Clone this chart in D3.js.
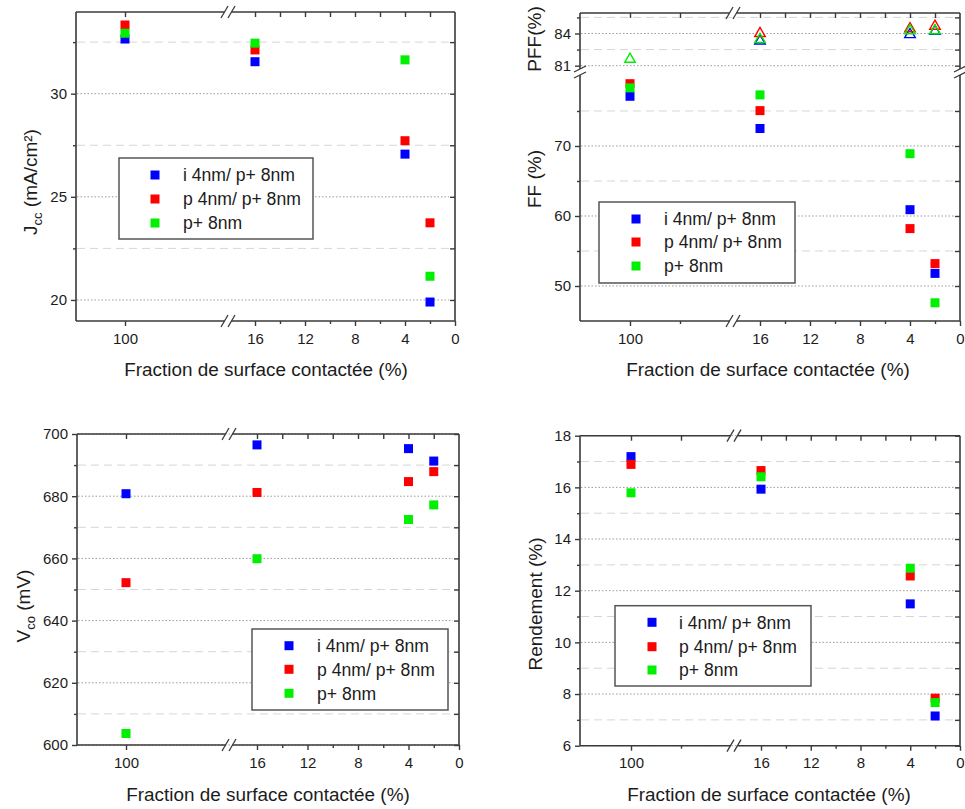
<!DOCTYPE html>
<html><head><meta charset="utf-8">
<script src="https://cdn.jsdelivr.net/npm/d3@7"></script>
<style>
body{margin:0;background:#fff}
svg{display:block}
text{font-family:"Liberation Sans",Arial,Helvetica,sans-serif;fill:#1c1c1c}
</style>
</head><body><svg id="c" width="965" height="809"></svg>
<script>
// ---------- DATA ----------
const categories = [100, 16, 4, 2];
const seriesNames = ["i 4nm/ p+ 8nm", "p 4nm/ p+ 8nm", "p+ 8nm"];
const seriesColors = ["#0000ff", "#ff0000", "#00f000"];
const xTickLabels = [100, 16, 12, 8, 4, 0];
const xMinorRight = [14, 10, 6, 2];

const jccI  = [32.65, 31.55, 27.07, 19.90];
const jccP  = [33.33, 32.12, 27.72, 23.74];
const jccPP = [32.93, 32.45, 31.64, 21.15];

const ffI  = [77.1, 72.5, 60.9, 51.8];
const ffP  = [78.9, 75.05, 58.2, 53.2];
const ffPP = [78.3, 77.3, 68.9, 47.6];

const pffI  = [null, 83.3, 83.9, 84.2];
const pffP  = [null, 84.0, 84.45, 84.68];
const pffPP = [81.6, 83.45, 84.26, 84.26];

const vcoI  = [680.8, 696.5, 695.3, 691.3];
const vcoP  = [652.2, 681.2, 684.7, 687.9];
const vcoPP = [603.7, 659.9, 672.5, 677.2];

const rendI  = [17.19, 15.93, 11.49, 7.15];
const rendP  = [16.89, 16.65, 12.57, 7.84];
const rendPP = [15.79, 16.41, 12.87, 7.67];

const jccTicks = [20, 25, 30],  jccMinor = [22.5, 27.5, 32.5];
const ffTicks  = [50, 60, 70],  ffMinor  = [55, 65, 75];
const pffTicks = [81, 84],      pffMinor = [82.5, 85.5];
const vcoTicks = [600, 620, 640, 660, 680, 700], vcoMinor = [610, 630, 650, 670, 690];
const rendTicks = [6, 8, 10, 12, 14, 16, 18], rendMinor = [7, 9, 11, 13, 15, 17];

const xTitle = "Fraction de surface contactée (%)";

// ---------- DRAWING ----------
const svg = d3.select('#c');
const AX = "#3a3a3a";

function drawPanel(cfg) {
  const g = svg.append('g');
  const f = cfg.frame;
  const xL = d3.scaleLinear().domain([100, 90]).range([cfg.x100, cfg.x100 + 50]);
  const xR = d3.scaleLinear().domain([16, 0]).range([cfg.x16, f.r]);
  const xPos = v => v > 50 ? xL(v) : xR(v);

  const segs = cfg.segs.map(s => Object.assign({}, s, {
    y: d3.scaleLinear().domain(s.domain).range(s.range)
  }));

  // gridlines
  segs.forEach(s => {
    g.selectAll(null).data(s.minor).enter().append('line')
      .attr('x1', f.l + 1).attr('x2', f.r - 1)
      .attr('y1', d => s.y(d)).attr('y2', d => s.y(d))
      .attr('stroke', '#d6d6d6').attr('stroke-width', 1).attr('stroke-dasharray', '8,5');
    g.selectAll(null).data(s.major).enter().append('line')
      .attr('x1', f.l + 1).attr('x2', f.r - 6)
      .attr('y1', d => s.y(d)).attr('y2', d => s.y(d))
      .attr('stroke', '#9a9a9a').attr('stroke-width', 1).attr('stroke-dasharray', '1.5,2');
  });

  // frame lines with breaks
  const gap = 3.5;
  const fr = g.append('g').attr('stroke', AX).attr('stroke-width', 1.6).attr('fill', 'none');
  [f.t, f.b].forEach(yy => {
    fr.append('line').attr('x1', f.l).attr('x2', cfg.xBreak - gap).attr('y1', yy).attr('y2', yy);
    fr.append('line').attr('x1', cfg.xBreak + gap).attr('x2', f.r).attr('y1', yy).attr('y2', yy);
  });
  [f.l, f.r].forEach(xx => {
    segs.forEach(s => {
      fr.append('line').attr('x1', xx).attr('x2', xx).attr('y1', s.range[0]).attr('y2', s.range[1]);
    });
  });
  // x break marks
  [f.t, f.b].forEach(yy => {
    [-3.5, 3.5].forEach(o => {
      fr.append('line').attr('x1', cfg.xBreak + o - 3.5).attr('y1', yy + 6)
        .attr('x2', cfg.xBreak + o + 3.5).attr('y2', yy - 6).attr('stroke-width', 1.3);
    });
  });
  // y break marks
  if (segs.length > 1) {
    const yb = (segs[0].range[1] + segs[1].range[0]) / 2;
    [f.l, f.r].forEach(xx => {
      [-3, 3].forEach(o => {
        fr.append('line').attr('x1', xx - 6).attr('y1', yb + o + 3)
          .attr('x2', xx + 6).attr('y2', yb + o - 3).attr('stroke-width', 1.3);
      });
    });
  }

  function styleAxis(sel, labels) {
    sel.select('.domain').remove();
    sel.selectAll('.tick line').attr('stroke', AX).attr('stroke-width', 1.4);
    if (labels) sel.selectAll('.tick text').attr('font-size', 15).attr('fill', '#1c1c1c')
      .style('font-family', '"Liberation Sans",Arial,sans-serif');
    else sel.selectAll('.tick text').remove();
  }

  // bottom axis
  const leftMinor = cfg.leftMinor ? [90] : [];
  styleAxis(g.append('g').attr('transform', `translate(0,${f.b})`)
    .call(d3.axisBottom(xL).tickValues([100]).tickSize(5).tickPadding(7).tickFormat(d3.format('d'))), true);
  styleAxis(g.append('g').attr('transform', `translate(0,${f.b})`)
    .call(d3.axisBottom(xR).tickValues(xTickLabels.filter(v => v <= 16)).tickSize(5).tickPadding(7).tickFormat(d3.format('d'))), true);
  styleAxis(g.append('g').attr('transform', `translate(0,${f.b})`)
    .call(d3.axisBottom(xR).tickValues(xMinorRight).tickSize(3)), false);
  if (leftMinor.length) styleAxis(g.append('g').attr('transform', `translate(0,${f.b})`)
    .call(d3.axisBottom(xL).tickValues(leftMinor).tickSize(3)), false);
  // top axis (inward)
  styleAxis(g.append('g').attr('transform', `translate(0,${f.t})`)
    .call(d3.axisTop(xL).tickValues([100].concat(leftMinor)).tickSize(-5)), false);
  styleAxis(g.append('g').attr('transform', `translate(0,${f.t})`)
    .call(d3.axisTop(xR).tickValues(xTickLabels.filter(v => v <= 16 && v > 0).concat(xMinorRight)).tickSize(-5)), false);

  // left / right axes
  segs.forEach(s => {
    styleAxis(g.append('g').attr('transform', `translate(${f.l},0)`)
      .call(d3.axisLeft(s.y).tickValues(s.major).tickSize(5).tickPadding(4).tickFormat(d3.format('d'))), true);
    styleAxis(g.append('g').attr('transform', `translate(${f.l},0)`)
      .call(d3.axisLeft(s.y).tickValues(s.minor).tickSize(3)), false);
    styleAxis(g.append('g').attr('transform', `translate(${f.r},0)`)
      .call(d3.axisRight(s.y).tickValues(s.major.concat(s.minor)).tickSize(-5)), false);
  });

  // markers
  cfg.series.forEach(ser => {
    const s = segs[ser.seg];
    const pts = categories.map((c, i) => ({c, v: ser.values[i]})).filter(d => d.v != null);
    if (ser.shape === 'tri') {
      g.selectAll(null).data(pts).enter().append('path')
        .attr('d', d3.symbol().type(d3.symbolTriangle).size(48))
        .attr('transform', d => `translate(${xPos(d.c)},${s.y(d.v)})`)
        .attr('fill', 'none').attr('stroke', ser.color).attr('stroke-width', 1.4);
    } else {
      g.selectAll(null).data(pts).enter().append('rect')
        .attr('x', d => xPos(d.c) - 4.5).attr('y', d => s.y(d.v) - 4.5)
        .attr('width', 9).attr('height', 9).attr('fill', ser.color);
    }
  });

  // legend
  const L = cfg.legend;
  const lg = g.append('g');
  lg.append('rect').attr('x', L.x).attr('y', L.y).attr('width', L.w).attr('height', L.h)
    .attr('fill', '#fff').attr('stroke', '#555').attr('stroke-width', 1.5);
  seriesNames.forEach((n, i) => {
    lg.append('rect').attr('x', L.mx - 4.5).attr('y', L.rows[i] - 4.5).attr('width', 9).attr('height', 9)
      .attr('fill', seriesColors[i]);
    lg.append('text').attr('x', L.tx).attr('y', L.rows[i]).attr('dy', '0.36em')
      .attr('font-size', 17.6).text(n);
  });

  // x title
  g.append('text').attr('x', cfg.xt[0]).attr('y', cfg.xt[1]).attr('text-anchor', 'middle')
    .attr('font-size', 18.9).text(xTitle);
  // y titles
  cfg.yTitles.forEach(t => {
    const tx = g.append('text').attr('transform', `translate(${t.x},${t.y}) rotate(-90)`)
      .attr('text-anchor', 'middle').attr('font-size', 19);
    tx.append('tspan').text(t.main);
    if (t.sub) {
      tx.append('tspan').attr('font-size', 13).attr('dy', 5).text(t.sub);
      tx.append('tspan').attr('dy', -5).text(t.rest);
    }
  });
}

// Jcc
drawPanel({
  frame: {l: 76, r: 455, t: 12, b: 321}, x100: 125, x16: 255, xBreak: 228, leftMinor: false,
  segs: [{domain: [18.98, 33.96], range: [321, 12], major: jccTicks, minor: jccMinor}],
  series: [
    {values: jccI, color: seriesColors[0], seg: 0},
    {values: jccP, color: seriesColors[1], seg: 0},
    {values: jccPP, color: seriesColors[2], seg: 0}],
  legend: {x: 119, y: 158, w: 194, h: 81, mx: 155, tx: 183, rows: [175, 199, 223]},
  xt: [266, 376],
  yTitles: [{x: 37, y: 182, main: "J", sub: "cc", rest: " (mA/cm²)"}]
});

// FF / PFF
drawPanel({
  frame: {l: 580, r: 960, t: 13, b: 321}, x100: 630, x16: 760, xBreak: 733, leftMinor: true,
  segs: [
    {domain: [45, 80.14], range: [321, 75], major: ffTicks, minor: ffMinor},
    {domain: [80.69, 85.91], range: [69, 13], major: pffTicks, minor: pffMinor}],
  series: [
    {values: ffI, color: seriesColors[0], seg: 0},
    {values: ffP, color: seriesColors[1], seg: 0},
    {values: ffPP, color: seriesColors[2], seg: 0},
    {values: pffI, color: seriesColors[0], seg: 1, shape: 'tri'},
    {values: pffP, color: seriesColors[1], seg: 1, shape: 'tri'},
    {values: pffPP, color: seriesColors[2], seg: 1, shape: 'tri'}],
  legend: {x: 599, y: 202, w: 196, h: 81, mx: 636, tx: 664, rows: [219, 242, 266]},
  xt: [768, 376],
  yTitles: [{x: 541, y: 39, main: "PFF(%)"}, {x: 541, y: 179, main: "FF (%)"}]
});

// Vco
drawPanel({
  frame: {l: 77, r: 459, t: 434, b: 745}, x100: 126, x16: 257, xBreak: 229, leftMinor: false,
  segs: [{domain: [600, 700], range: [745, 434], major: vcoTicks, minor: vcoMinor}],
  series: [
    {values: vcoI, color: seriesColors[0], seg: 0},
    {values: vcoP, color: seriesColors[1], seg: 0},
    {values: vcoPP, color: seriesColors[2], seg: 0}],
  legend: {x: 252, y: 629, w: 196, h: 81, mx: 289, tx: 317, rows: [645.7, 669.3, 693.3]},
  xt: [268, 801],
  yTitles: [{x: 30, y: 606, main: "V", sub: "co", rest: " (mV)"}]
});

// Rendement
drawPanel({
  frame: {l: 580, r: 960, t: 435.7, b: 745.7}, x100: 631, x16: 761, xBreak: 734, leftMinor: true,
  segs: [{domain: [6, 18], range: [745.7, 435.7], major: rendTicks, minor: rendMinor}],
  series: [
    {values: rendI, color: seriesColors[0], seg: 0},
    {values: rendP, color: seriesColors[1], seg: 0},
    {values: rendPP, color: seriesColors[2], seg: 0}],
  legend: {x: 615, y: 605.7, w: 196, h: 80.3, mx: 652, tx: 679, rows: [622.3, 646.7, 670]},
  xt: [769, 801],
  yTitles: [{x: 542, y: 604, main: "Rendement (%)"}]
});
</script>
</body></html>
